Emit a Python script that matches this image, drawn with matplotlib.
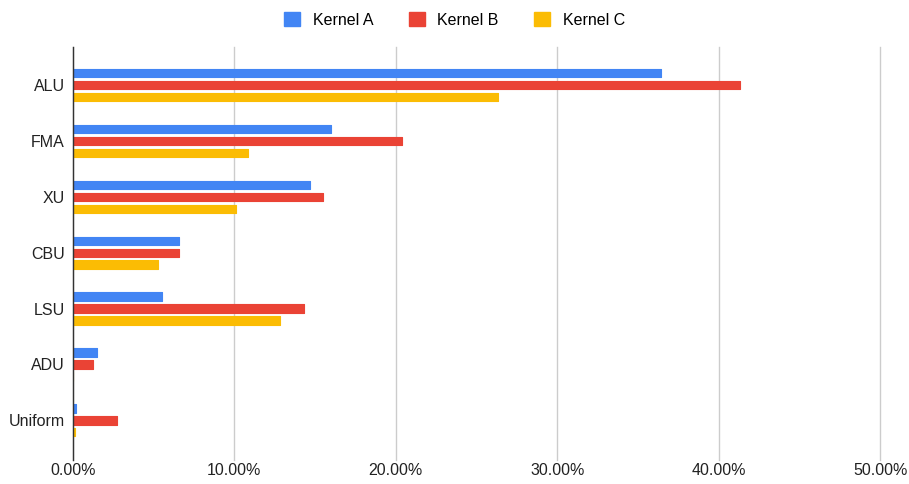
import matplotlib.pyplot as plt
import numpy as np
from matplotlib.patches import Patch

plt.rcParams["font.family"] = ["Liberation Sans", "DejaVu Sans"]

categories = ["ALU", "FMA", "XU", "CBU", "LSU", "ADU", "Uniform"]
series_names = ["Kernel A", "Kernel B", "Kernel C"]
kernel_a = [36.45, 15.98, 14.69, 6.56, 5.51, 1.48, 0.20]
kernel_b = [41.33, 20.36, 15.51, 6.56, 14.30, 1.23, 2.70]
kernel_c = [26.34, 10.86, 10.10, 5.27, 12.84, 0.0, 0.10]
x_ticks = [0, 10, 20, 30, 40, 50]

colors = ["#4285F4", "#EA4335", "#FBBC04"]

fig = plt.figure(figsize=(9.09, 4.84), dpi=100)
ax = fig.add_axes([0.0803, 0.0496, 0.888, 0.853])

y = np.arange(len(categories))
offset = 0.214
height = 0.15
for i, (vals, color) in enumerate(zip([kernel_a, kernel_b, kernel_c], colors)):
    ax.barh(y + (i - 1) * offset, vals, height=height, color=color,
            edgecolor=color, linewidth=0.8, joinstyle="round", zorder=3)

ax.set_xlim(0, 50)
ax.set_ylim(6.71, -0.68)
ax.set_yticks(y)
ax.set_yticklabels(categories, fontsize=11.5)
ax.set_xticks(x_ticks)
ax.set_xticklabels([f"{t:.2f}%" for t in x_ticks], fontsize=11.5)
ax.tick_params(axis="both", length=0, colors="#222222")
ax.tick_params(axis="y", pad=6)
ax.tick_params(axis="x", pad=2)

ax.grid(axis="x", color="#CCCCCC", linewidth=1, zorder=0)
for gl in ax.get_xgridlines():
    gl.set_clip_on(False)
ax.set_axisbelow(True)
for side in ["top", "right", "bottom"]:
    ax.spines[side].set_visible(False)
ax.spines["left"].set_color("#333333")
ax.spines["left"].set_linewidth(1)
ax.spines["left"].set_zorder(4)

handles = [Patch(facecolor=c, edgecolor=c) for c in colors]
fig.legend(handles, series_names, loc="upper center", bbox_to_anchor=(0.5, 1.005),
           ncol=3, frameon=False, fontsize=11.5, handlelength=1.0, handleheight=1.0,
           columnspacing=2.2, handletextpad=0.8)

fig.savefig("out.png", dpi=100)
